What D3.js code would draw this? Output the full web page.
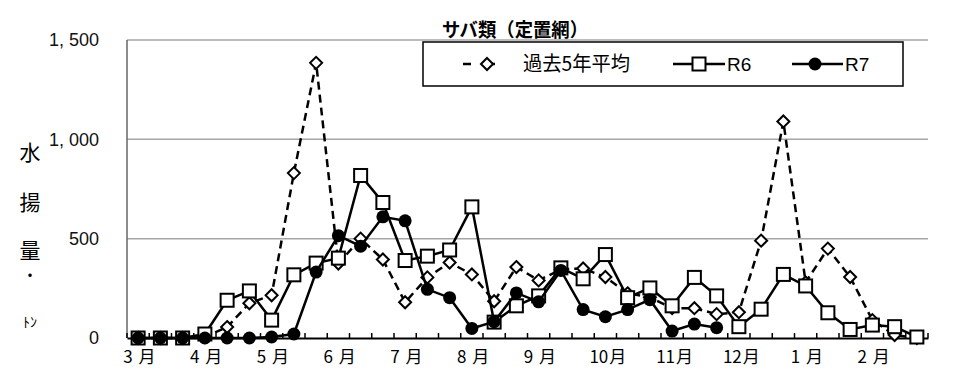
<!DOCTYPE html>
<html><head><meta charset="utf-8">
<script src="https://cdn.jsdelivr.net/npm/d3@7"></script>
<style>
body{margin:0;background:#fff;}
svg{display:block;font-family:"Liberation Sans","Noto Sans CJK JP",sans-serif;}
</style></head>
<body><svg id="c" width="960" height="388"></svg>
<script>
const title = "サバ類（定置網）";
const monthNums = ["3","4","5","6","7","8","9","10","11","12","1","2"];
const monthSuffix = "月";
const seriesNames = ["過去5年平均","R6","R7"];
const yTicks = [0,500,1000,1500];
// 36 ten-day periods (上旬・中旬・下旬) from March to February
const past5 = [0,0,0,5,55,175,215,830,1385,375,500,395,180,305,380,320,185,357,290,345,350,307,225,205,150,150,120,130,490,1090,280,450,307,90,15,0];
const r6 = [0,0,0,20,190,237,90,318,377,402,818,682,390,412,443,660,80,162,212,353,298,420,203,252,162,305,212,57,145,320,262,127,43,65,57,5];
const r7 = [0,0,0,0,0,0,5,20,332,515,462,610,590,245,203,48,82,227,182,340,143,107,143,193,35,70,52];

const svg = d3.select("#c");
const L = 127, R = 928, T = 40, B = 338;
const idx = d3.range(36);
const x = d3.scaleBand().domain(idx).range([L, R]);
const cx = i => x(i) + x.bandwidth()/2;
const y = d3.scaleLinear().domain([0,1500]).range([B, T]);
const JP = "'Noto Sans CJK JP','Noto Sans CJK SC',sans-serif";

// gridlines
svg.append("g").selectAll("line").data(yTicks.filter(d=>d>0)).join("line")
  .attr("x1", L).attr("x2", R).attr("y1", d=>y(d)).attr("y2", d=>y(d))
  .attr("stroke", "#a6a6a6").attr("stroke-width", 1.5);

// y axis line
svg.append("line").attr("x1", L).attr("x2", L).attr("y1", T).attr("y2", B)
  .attr("stroke", "#666").attr("stroke-width", 1.5);
// y tick labels
svg.append("g").selectAll("text").data(yTicks).join("text")
  .attr("x", 99).attr("y", d=>y(d)).attr("dy", "0.35em")
  .attr("text-anchor", "end").attr("font-size", 18).attr("fill", "#111")
  .text(d => d3.format(",")(d).replace(",", ", "));

// x axis
const xAxis = d3.axisBottom(x).tickSize(0).tickFormat("");
const gx = svg.append("g").attr("transform", `translate(0,${B})`).call(xAxis);
gx.select(".domain").attr("stroke", "#000").attr("stroke-width", 2);
const bounds = d3.range(37).map(k => L + k * x.step());
svg.append("g").selectAll("line").data(bounds).join("line")
  .attr("x1", d=>d).attr("x2", d=>d).attr("y1", B).attr("y2", B-5)
  .attr("stroke", "#000").attr("stroke-width", 1.5);
const ml = svg.append("g").selectAll("text").data(monthNums).join("text")
  .attr("x", (d,i)=>cx(i*3) - (d.length>1 ? 16 : 15))
  .attr("y", 357).attr("dy", "0.36em")
  .attr("font-size", 17)
  .attr("font-family", JP);
ml.append("tspan").text(d=>d);
ml.append("tspan").attr("dx", d=> d.length>1 ? 1 : 6).text(monthSuffix);

// y axis label (vertical)
const ylab = [["水",152,21],["揚",202,21],["量",250,21],["・",275,16],["ﾄﾝ",322,14]];
svg.append("g").selectAll("text").data(ylab).join("text")
  .attr("x", 30).attr("y", d=>d[1]).attr("dy","0.36em")
  .attr("text-anchor","middle").attr("font-size", d=>d[2])
  .attr("font-family", JP)
  .text(d=>d[0]);

// line generators
const line = d3.line().defined(d=>d[1]!=null).x(d=>cx(d[0])).y(d=>y(d[1]));
const pts = arr => arr.map((v,i)=>[i,v]);
const dpath = (px,py,s)=>`M${px},${py-s}L${px+s},${py}L${px},${py+s}L${px-s},${py}Z`;

// past 5-year average
svg.append("path").attr("d", line(pts(past5))).attr("fill","none")
  .attr("stroke","#000").attr("stroke-width",2.5).attr("stroke-dasharray","8,5");
svg.append("g").selectAll("path").data(pts(past5)).join("path")
  .attr("d", d=>dpath(cx(d[0]), y(d[1]), 6))
  .attr("fill","#fff").attr("stroke","#000").attr("stroke-width",2);

// R6
svg.append("path").attr("d", line(pts(r6))).attr("fill","none")
  .attr("stroke","#000").attr("stroke-width",2.5);
svg.append("g").selectAll("rect").data(pts(r6)).join("rect")
  .attr("x", d=>cx(d[0])-6.5).attr("y", d=>y(d[1])-6.5)
  .attr("width",13).attr("height",13)
  .attr("fill","#fff").attr("stroke","#000").attr("stroke-width",2);

// R7
svg.append("path").attr("d", line(pts(r7))).attr("fill","none")
  .attr("stroke","#000").attr("stroke-width",2.5);
svg.append("g").selectAll("circle").data(pts(r7)).join("circle")
  .attr("cx", d=>cx(d[0])).attr("cy", d=>y(d[1])).attr("r",6.5)
  .attr("fill","#000");

// title
svg.append("text").attr("x", 442).attr("y", 30).attr("dy","0.36em")
  .attr("font-size", 19).attr("font-weight","bold")
  .attr("textLength", 146).attr("lengthAdjust","spacingAndGlyphs")
  .attr("font-family", JP)
  .text(title);

// legend
const lg = svg.append("g");
lg.append("rect").attr("x",423).attr("y",42).attr("width",480).attr("height",44)
  .attr("fill","#fff").attr("stroke","#000").attr("stroke-width",1.5);
const ly = 64;
lg.append("line").attr("x1",463).attr("x2",511).attr("y1",ly).attr("y2",ly)
  .attr("stroke","#000").attr("stroke-width",2.5).attr("stroke-dasharray","8,16");
lg.append("path").attr("d", dpath(487, ly, 6))
  .attr("fill","#fff").attr("stroke","#000").attr("stroke-width",2);
lg.append("text").attr("x",523).attr("y",ly).attr("dy","0.36em").attr("font-size",20)
  .attr("textLength", 107).attr("lengthAdjust","spacingAndGlyphs")
  .attr("font-family", JP).text(seriesNames[0]);
lg.append("line").attr("x1",673).attr("x2",725).attr("y1",ly).attr("y2",ly)
  .attr("stroke","#000").attr("stroke-width",2.5);
lg.append("rect").attr("x",699-6.5).attr("y",ly-6.5).attr("width",13).attr("height",13)
  .attr("fill","#fff").attr("stroke","#000").attr("stroke-width",2);
lg.append("text").attr("x",727).attr("y",ly).attr("dy","0.36em").attr("font-size",19)
  .attr("font-family","'Liberation Sans Narrow','Liberation Sans',sans-serif").text(seriesNames[1]);
lg.append("line").attr("x1",792).attr("x2",843).attr("y1",ly).attr("y2",ly)
  .attr("stroke","#000").attr("stroke-width",2.5);
lg.append("circle").attr("cx",815).attr("cy",ly).attr("r",6.5).attr("fill","#000");
lg.append("text").attr("x",845).attr("y",ly).attr("dy","0.36em").attr("font-size",19)
  .attr("font-family","'Liberation Sans Narrow','Liberation Sans',sans-serif").text(seriesNames[2]);
</script></body></html>
